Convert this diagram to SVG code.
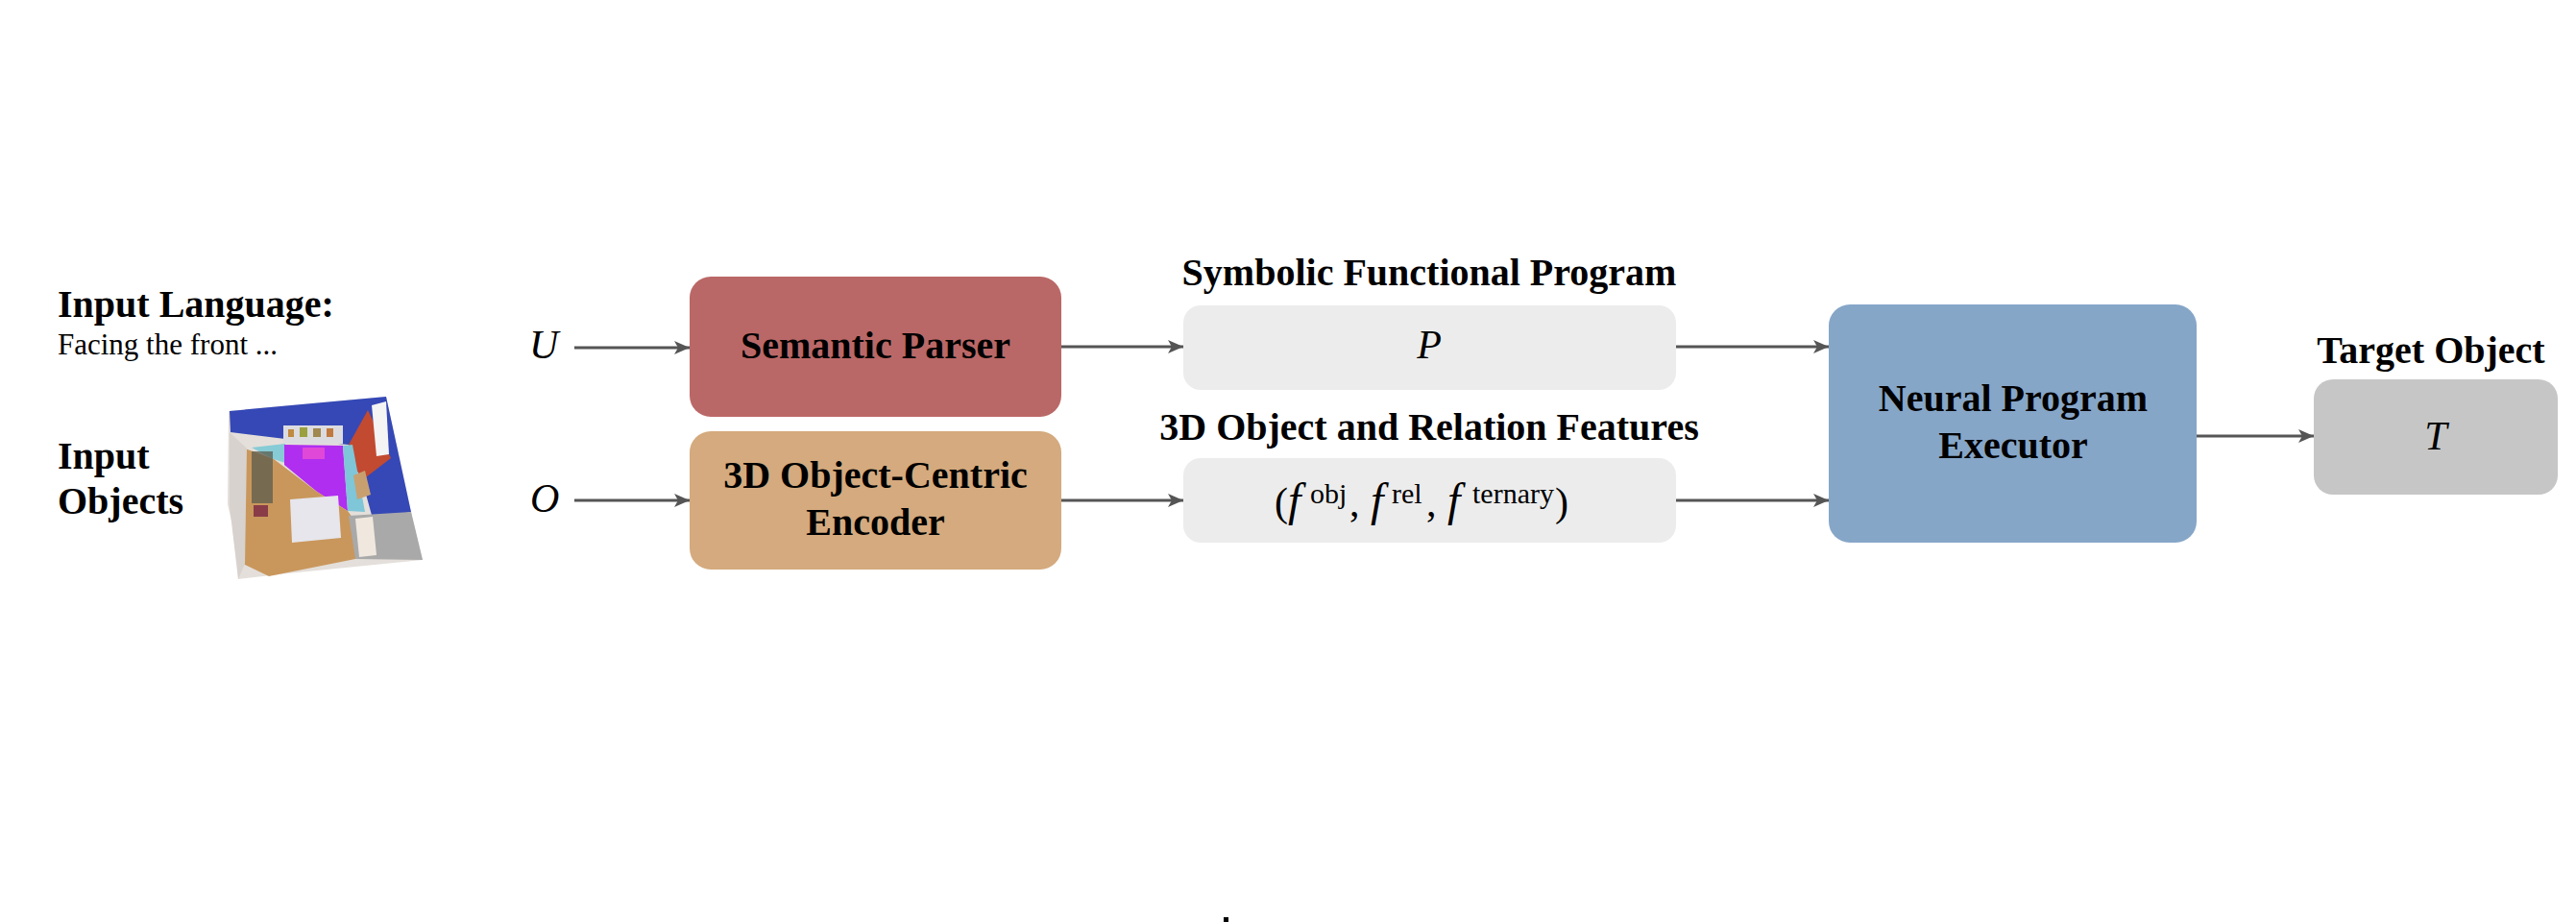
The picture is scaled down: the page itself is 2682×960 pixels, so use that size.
<svg xmlns="http://www.w3.org/2000/svg" width="2682" height="960" viewBox="0 0 2682 960">
<style>
.lbl{font-family:"Liberation Serif","Times New Roman",serif;font-weight:bold;font-size:40px;fill:#000}
.sm{font-family:"Liberation Serif","Times New Roman",serif;font-size:31px;fill:#000}
.math{font-family:"Liberation Serif","Times New Roman",serif;font-style:italic;font-size:42px;fill:#000}
.sup{font-family:"Liberation Serif","Times New Roman",serif;font-size:30px;fill:#000}
.conn{stroke:#555;stroke-width:3;fill:none}
</style>
<defs>
<marker id="arr" markerUnits="userSpaceOnUse" markerWidth="17" markerHeight="16" refX="16" refY="7" orient="auto">
<path d="M0,0 L16,7 L0,14 L4,7 z" fill="#555"/>
</marker>
</defs>
<rect width="2682" height="960" fill="#fff"/>

<g id="input-language">
<text class="lbl" x="60" y="330">Input Language:</text>
<text class="sm" x="60" y="369">Facing the front ...</text>
<text class="math" x="551" y="373">U</text>
</g>

<g id="input-objects">
<text class="lbl" x="60" y="488">Input</text>
<text class="lbl" x="60" y="535">Objects</text>
<text class="math" x="552" y="533">O</text>
<g id="scene">
<polygon points="238,428 402,413 428,533 440,583 300,597 248,603 245,560 237,525" fill="#e4dfda"/>
<polygon points="239,428 402,413 428,533 388,540 377,500 363,463 297,457 240,450" fill="#3548b6"/>
<polygon points="363,463 383,427 407,477 377,500 370,487" fill="#c24a30"/>
<polygon points="387,422 402,418 405,473 392,475" fill="#f4f4f4"/>
<rect x="295" y="443" width="62" height="19" fill="#dcdce0"/>
<rect x="300" y="447" width="6" height="8" fill="#c08a40"/>
<rect x="312" y="445" width="8" height="10" fill="#9aa040"/>
<rect x="326" y="446" width="8" height="9" fill="#a08850"/>
<rect x="340" y="446" width="7" height="9" fill="#c07a40"/>
<polygon points="262,466 297,462 297,482 285,478" fill="#86cbd6"/>
<polygon points="296,463 357,464 362,532 330,512 296,484" fill="#b02ef0"/>
<rect x="315" y="466" width="23" height="12" fill="#e048d8"/>
<polygon points="357,464 367,463 380,533 362,532" fill="#7ec6d8"/>
<polygon points="255,467 285,478 330,512 362,532 377,553 370,582 280,600 253,587" fill="#c9975c"/>
<polygon points="302,520 352,516 355,560 304,565" fill="#e6e6ec"/>
<polygon points="363,537 428,533 440,583 370,582" fill="#a9a9a9"/>
<polygon points="370,540 388,538 392,578 374,580" fill="#f0e8de"/>
<polygon points="239,450 257,467 255,587 248,603 239,527" fill="#d8d2ce"/>
<rect x="262" y="470" width="22" height="54" fill="#5a5c4e" opacity="0.75"/>
<rect x="264" y="526" width="15" height="12" fill="#7a2444" opacity="0.8"/>
<polygon points="368,495 380,490 386,515 372,520" fill="#c8a070"/>
</g>
</g>

<g id="semantic-parser">
<rect x="718" y="288" width="387" height="146" rx="22" fill="#ba6867"/>
<text class="lbl" x="911.5" y="373" text-anchor="middle">Semantic Parser</text>
</g>

<g id="encoder">
<rect x="718" y="449" width="387" height="144" rx="22" fill="#d4aa7e"/>
<text class="lbl" x="911.5" y="508" text-anchor="middle">3D Object-Centric</text>
<text class="lbl" x="911.5" y="557" text-anchor="middle">Encoder</text>
</g>

<g id="program">
<text class="lbl" x="1488" y="297" text-anchor="middle">Symbolic Functional Program</text>
<rect x="1232" y="318" width="513" height="88" rx="18" fill="#ececec"/>
<text class="math" x="1488" y="373" text-anchor="middle">P</text>
</g>

<g id="features">
<text class="lbl" x="1488" y="458" text-anchor="middle">3D Object and Relation Features</text>
<rect x="1232" y="477" width="513" height="88" rx="18" fill="#ececec"/>
<text y="537"><tspan class="sm" style="font-size:42px" x="1327">(</tspan><tspan class="math" style="font-size:48px" x="1341">f</tspan><tspan class="sup" x="1364" y="524">obj</tspan><tspan class="sm" style="font-size:42px" x="1405" y="537">,</tspan><tspan class="math" style="font-size:48px" x="1427">f</tspan><tspan class="sup" x="1449" y="524">rel</tspan><tspan class="sm" style="font-size:42px" x="1485" y="537">,</tspan><tspan class="math" style="font-size:48px" x="1507">f</tspan><tspan class="sup" x="1533" y="524">ternary</tspan><tspan class="sm" style="font-size:42px" x="1619" y="537">)</tspan></text>
</g>

<g id="executor">
<rect x="1904" y="317" width="383" height="248" rx="22" fill="#86a6c8"/>
<text class="lbl" x="2096" y="428" text-anchor="middle">Neural Program</text>
<text class="lbl" x="2096" y="477" text-anchor="middle">Executor</text>
</g>

<g id="target">
<text class="lbl" x="2531" y="378" text-anchor="middle">Target Object</text>
<rect x="2409" y="395" width="254" height="120" rx="20" fill="#c6c6c6"/>
<text class="math" x="2536" y="468" text-anchor="middle">T</text>
</g>

<g id="connectors">
<line class="conn" x1="598" y1="362" x2="718" y2="362" marker-end="url(#arr)"/>
<line class="conn" x1="598" y1="521" x2="718" y2="521" marker-end="url(#arr)"/>
<line class="conn" x1="1105" y1="361" x2="1232" y2="361" marker-end="url(#arr)"/>
<line class="conn" x1="1105" y1="521" x2="1232" y2="521" marker-end="url(#arr)"/>
<line class="conn" x1="1745" y1="361" x2="1904" y2="361" marker-end="url(#arr)"/>
<line class="conn" x1="1745" y1="521" x2="1904" y2="521" marker-end="url(#arr)"/>
<line class="conn" x1="2287" y1="454" x2="2409" y2="454" marker-end="url(#arr)"/>
</g>

<rect x="1274" y="955" width="5" height="5" fill="#000"/>
</svg>
